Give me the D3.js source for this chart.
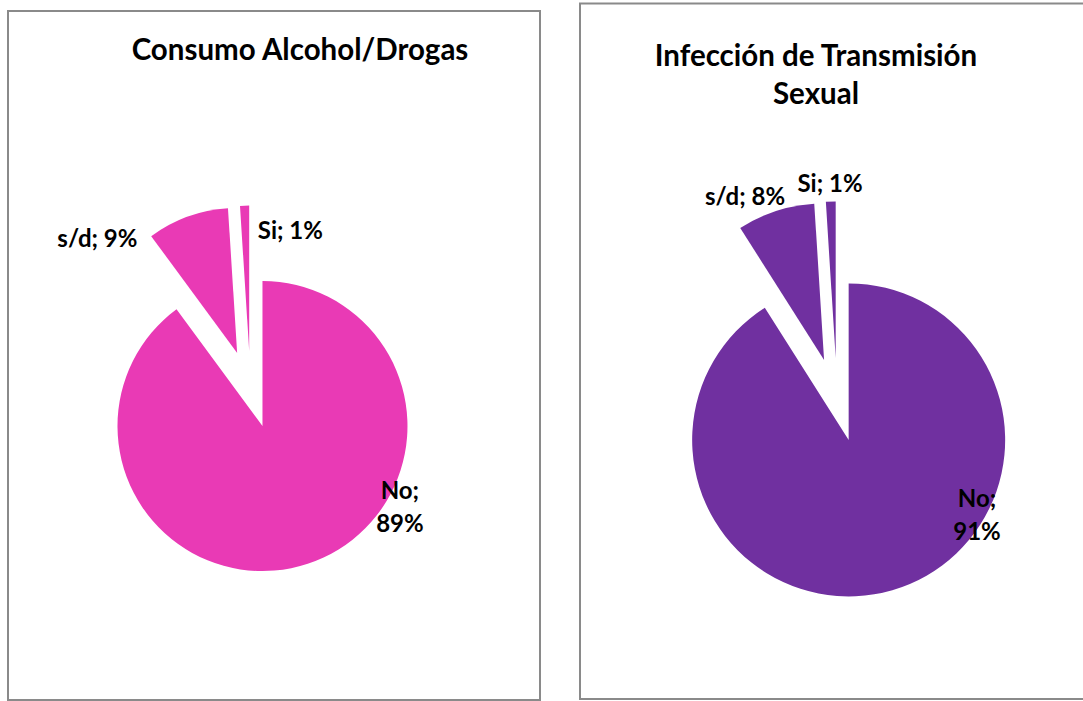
<!DOCTYPE html>
<html>
<head>
<meta charset="utf-8">
<script src="https://cdn.jsdelivr.net/npm/d3@7"></script>
<style>
  body { margin: 0; background: #fff; }
  svg { display: block; }
  text { font-family: Lato, "Open Sans", sans-serif; font-weight: bold; fill: #000; }
</style>
</head>
<body>
<svg id="chart" width="1083" height="701"></svg>
<script>
// datos
const categories = ["No", "s/d", "Si"];
const alcoholValues = [89, 9, 1];
const itsValues = [91, 8, 1];
const titles = [["Consumo Alcohol/Drogas"], ["Infección de Transmisión", "Sexual"]];
const colors = ["#e93ab5", "#7030a0"];

const svg = d3.select("#chart");

// layout de cada panel (no son datos)
const panels = [
  {
    values: alcoholValues, title: titles[0], color: colors[0],
    box: [8, 11, 532, 689], cx: 250.4, cy: 389.3, r: 145, titleX: 300, titleY: 60,
    labels: [[149.5, 110, "two"], [-153, -142, "one"], [40, -150, "one"]]
  },
  {
    values: itsValues, title: titles[1], color: colors[1],
    box: [580, 3.5, 520, 695.5], cx: 837, cy: 399.8, r: 156.5, titleX: 816, titleY: 66,
    labels: [[140, 107, "two"], [-92, -195, "one"], [-7, -208, "one"]]
  }
];

const pie = d3.pie().sort(null).value(d => d);

panels.forEach(p => {
  const g = svg.append("g");

  // marco
  g.append("rect")
    .attr("x", p.box[0]).attr("y", p.box[1])
    .attr("width", p.box[2]).attr("height", p.box[3])
    .attr("fill", "#fff")
    .attr("stroke", "#8a8a8a")
    .attr("stroke-width", 2);

  // titulo
  p.title.forEach((t, i) => {
    g.append("text")
      .attr("x", p.titleX).attr("y", p.titleY + i * 38)
      .attr("text-anchor", "middle")
      .style("font-size", "29.5px")
      .text(t);
  });

  const arc = d3.arc().innerRadius(0).outerRadius(p.r);
  const explode = p.r * 0.267;
  const arcs = pie(p.values);

  g.selectAll("path.slice")
    .data(arcs)
    .enter()
    .append("path")
    .attr("class", "slice")
    .attr("fill", p.color)
    .attr("d", arc)
    .attr("transform", d => {
      const a = (d.startAngle + d.endAngle) / 2;
      return `translate(${p.cx + explode * Math.sin(a)},${p.cy - explode * Math.cos(a)})`;
    });

  // etiquetas
  arcs.forEach((d, i) => {
    const pos = p.labels[i];
    const lx = p.cx + pos[0], ly = p.cy + pos[1];
    const txt = g.append("text")
      .attr("text-anchor", "middle")
      .style("font-size", "24px");
    if (pos[2] === "two") {
      txt.append("tspan").attr("x", lx).attr("y", ly).text(categories[i] + ";");
      txt.append("tspan").attr("x", lx).attr("y", ly + 33).text(d.data + "%");
    } else {
      txt.attr("x", lx).attr("y", ly).text(categories[i] + "; " + d.data + "%");
    }
  });
});
</script>
</body>
</html>
